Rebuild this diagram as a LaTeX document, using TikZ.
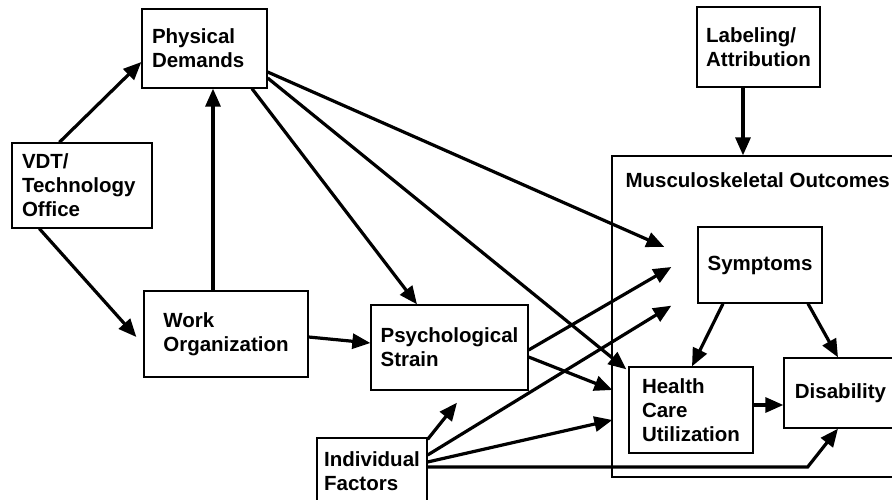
\documentclass[tikz,border=0pt]{standalone}
\usepackage{fontspec}
\setmainfont{Liberation Sans}
\usetikzlibrary{arrows.meta}

\begin{document}
\begin{tikzpicture}[x=1pt,y=-1pt,>={Triangle[length=18pt,width=15pt]},
  txt/.style={font=\bfseries\fontsize{20.5}{24}\selectfont},
  box/.style={txt,draw,line width=1.3pt,inner sep=0pt,align=left},
  link/.style={->,line width=3.2pt}]
  \useasboundingbox (0,0) rectangle (892,500);
  \clip (0,0) rectangle (892,500);
  % outcome frame
  \node[box,minimum width=288pt,minimum height=321pt] (mso) at (756,316.5) {};
  \node[txt,anchor=base west] (title) at (622,187) {Musculoskeletal Outcomes};
  \node[box,minimum width=125pt,minimum height=79pt,text width=105pt] (pd) at (204.5,48.5) {Physical\\Demands};
  \node[box,minimum width=140pt,minimum height=85pt,text width=120pt] (vdt) at (82,185.5) {VDT/\\Technology\\Office};
  \node[box,minimum width=164pt,minimum height=86pt] (wo) at (226,334) {Work\\Organization};
  \node[box,minimum width=157pt,minimum height=85pt] (psy) at (449.5,347.5) {Psychological\\Strain};
  \node[box,minimum width=110pt,minimum height=67pt] (ind) at (372,471.5) {Individual\\Factors};
  \node[box,minimum width=123pt,minimum height=80pt] (lab) at (758.5,47) {Labeling/\\Attribution};
  \node[box,minimum width=124pt,minimum height=76pt] (sym) at (760,265) {Symptoms};
  \node[box,minimum width=124pt,minimum height=86pt] (hcu) at (691,410) {Health\\Care\\Utilization};
  \node[box,minimum width=113pt,minimum height=70pt] (dis) at (840.5,393) {Disability};
  % free arrow ends
  \coordinate (symA) at ([xshift=-33pt,yshift=18pt]sym.west);
  \coordinate (symB) at ([xshift=-26pt,yshift=-2pt]sym.west);
  \coordinate (symC) at ([xshift=-26pt,yshift=-2pt]sym.south west);
  \coordinate (hcuA) at ([xshift=-16pt,yshift=20pt]hcu.west);
  \coordinate (hcuB) at ([xshift=-16pt,yshift=-10pt]hcu.west);
  \coordinate (psyA) at ([xshift=7.5pt,yshift=-12pt]psy.south);
  \coordinate (woT) at ([xshift=-13pt]wo.north);
  \coordinate (hcuE) at ([yshift=5pt]hcu.east);
  \coordinate (labS) at ([xshift=-15.5pt]lab.south);
  \draw[link] ([xshift=48pt]vdt.north west) -- ([yshift=-13.5pt]pd.west);
  \draw[link] ([xshift=28pt]vdt.south west) -- ([xshift=-7pt,yshift=-3pt]wo.west);
  \draw[link] (woT) -- (woT |- pd.south);
  \draw[link] ([yshift=-3pt]wo.east) -- ([yshift=4.5pt]psy.west);
  \draw[link] ([xshift=47.5pt]pd.south) -- ([xshift=-32.5pt]psy.north);
  \draw[link] ([yshift=-23.5pt]pd.east) -- (symA);
  \draw[link] ([yshift=-29.5pt]pd.east) -- ([xshift=-2pt,yshift=-3pt]hcu.north west);
  \draw[link] ([yshift=-2.5pt]psy.east) -- (symB);
  \draw[link] ([yshift=-9.5pt]psy.east) -- (hcuA);
  \draw[link] ([yshift=-2pt]ind.north east) -- (psyA);
  \draw[link] ([yshift=16.5pt]ind.east) -- (symC);
  \draw[link] ([yshift=9.5pt]ind.east) -- (hcuB);
  \draw[link] ([yshift=4.5pt]ind.east) -- ++(380,0) -- ([xshift=-2.5pt]dis.south);
  \draw[link] ([xshift=-37pt]sym.south) -- ([xshift=1pt]hcu.north);
  \draw[link] ([xshift=48pt]sym.south) -- ([xshift=-2.5pt]dis.north);
  \draw[link] (hcuE) -- (hcuE -| dis.west);
  \draw[link] (labS) -- (labS |- mso.north);
\end{tikzpicture}
\end{document}
